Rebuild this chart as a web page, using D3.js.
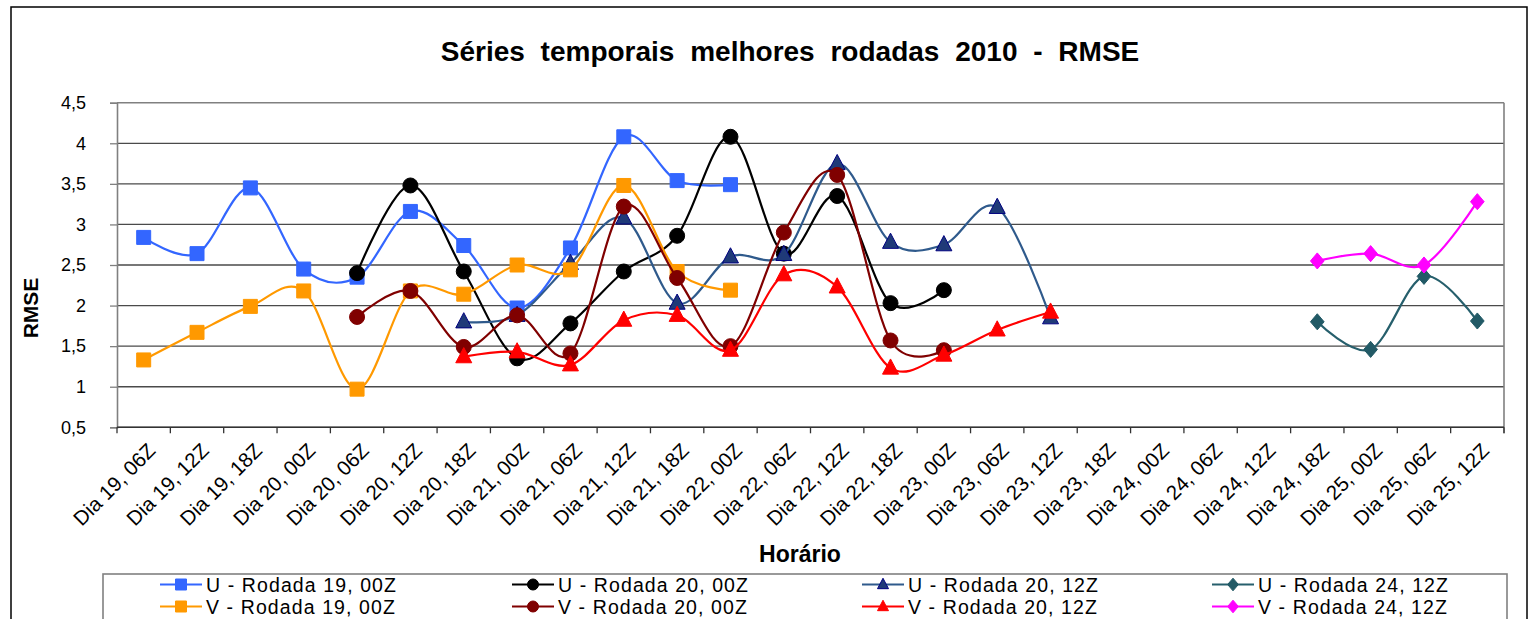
<!DOCTYPE html>
<html>
<head>
<meta charset="utf-8">
<script src="https://cdn.jsdelivr.net/npm/d3@7"></script>
<style>
  body { margin: 0; background: #fff; }
  svg { display: block; font-family: Arial, "Liberation Sans", sans-serif; }
</style>
</head>
<body>
<svg id="chart" width="1534" height="619"></svg>
<script>
// categories (x axis)
let categories = ["Dia 19, 06Z", "Dia 19, 12Z", "Dia 19, 18Z", "Dia 20, 00Z", "Dia 20, 06Z", "Dia 20, 12Z",
  "Dia 20, 18Z", "Dia 21, 00Z", "Dia 21, 06Z", "Dia 21, 12Z", "Dia 21, 18Z", "Dia 22, 00Z", "Dia 22, 06Z",
  "Dia 22, 12Z", "Dia 22, 18Z", "Dia 23, 00Z", "Dia 23, 06Z", "Dia 23, 12Z", "Dia 23, 18Z", "Dia 24, 00Z",
  "Dia 24, 06Z", "Dia 24, 12Z", "Dia 24, 18Z", "Dia 25, 00Z", "Dia 25, 06Z", "Dia 25, 12Z"]
let yTicks = [0.5, 1, 1.5, 2, 2.5, 3, 3.5, 4, 4.5]

let _ = null
// series values, one per category (null = no value)
let u19 = [2.84, 2.64, 3.45, 2.45, 2.35, 3.16, 2.74, 1.97, 2.71, 4.08, 3.54, 3.49, _, _, _, _, _, _, _, _, _, _, _, _, _, _]
let v19 = [1.33, 1.67, 1.99, 2.18, 0.97, 2.18, 2.14, 2.50, 2.44, 3.48, 2.42, 2.19, _, _, _, _, _, _, _, _, _, _, _, _, _, _]
let u20_00 = [_, _, _, _, 2.40, 3.48, 2.42, 1.35, 1.78, 2.42, 2.86, 4.08, 2.64, 3.35, 2.03, 2.19, _, _, _, _, _, _, _, _, _, _]
let v20_00 = [_, _, _, _, 1.86, 2.18, 1.49, 1.88, 1.41, 3.22, 2.34, 1.50, 2.90, 3.61, 1.57, 1.45, _, _, _, _, _, _, _, _, _, _]
let u20_12 = [_, _, _, _, _, _, 1.80, 1.88, 2.52, 3.08, 2.03, 2.60, 2.63, 3.75, 2.78, 2.75, 3.21, 1.85, _, _, _, _, _, _, _, _]
let v20_12 = [_, _, _, _, _, _, 1.37, 1.43, 1.27, 1.82, 1.88, 1.45, 2.38, 2.23, 1.23, 1.39, 1.70, 1.92, _, _, _, _, _, _, _, _]
let u24 = [_, _, _, _, _, _, _, _, _, _, _, _, _, _, _, _, _, _, _, _, _, _, 1.80, 1.46, 2.36, 1.81]
let v24 = [_, _, _, _, _, _, _, _, _, _, _, _, _, _, _, _, _, _, _, _, _, _, 2.55, 2.64, 2.50, 3.28]

// drawing order follows the legend (row by row)
let series = [
  {name: "U - Rodada 19, 00Z", values: u19, line: "#3366FF", fill: "#3366FF", stroke: "#3366FF", shape: "square"},
  {name: "U - Rodada 20, 00Z", values: u20_00, line: "#000000", fill: "#000000", stroke: "#000000", shape: "circle"},
  {name: "U - Rodada 20, 12Z", values: u20_12, line: "#2F5A8C", fill: "#1F3A78", stroke: "#000080", shape: "triangle"},
  {name: "U - Rodada 24, 12Z", values: u24, line: "#265F6C", fill: "#225A66", stroke: "#225A66", shape: "diamond"},
  {name: "V - Rodada 19, 00Z", values: v19, line: "#FF9900", fill: "#FF9900", stroke: "#FF9900", shape: "square"},
  {name: "V - Rodada 20, 00Z", values: v20_00, line: "#800000", fill: "#800000", stroke: "#800000", shape: "circle"},
  {name: "V - Rodada 20, 12Z", values: v20_12, line: "#FF0000", fill: "#FF0000", stroke: "#FF0000", shape: "triangle"},
  {name: "V - Rodada 24, 12Z", values: v24, line: "#FF00FF", fill: "#FF00FF", stroke: "#FF00FF", shape: "diamond"}
]

let svg = d3.select("#chart")
let plot = {left: 117, right: 1504, top: 102.7, bottom: 427.3}

// outer chart border
svg.append("rect").attr("x", 11).attr("y", 7).attr("width", 1516).attr("height", 640)
  .attr("fill", "#fff").attr("stroke", "#000").attr("stroke-width", 1.5)

let xScale = d3.scaleBand().domain(categories).range([plot.left, plot.right])
let yScale = d3.scaleLinear().domain([0.5, 4.5]).range([plot.bottom, plot.top])

// gridlines
svg.append("g").selectAll("line").data(yTicks).join("line")
  .attr("x1", plot.left).attr("x2", plot.right)
  .attr("y1", d => yScale(d)).attr("y2", d => yScale(d))
  .attr("stroke", d => d == 4.5 ? "#808080" : "#4a4a4a").attr("stroke-width", d => d == 4.5 ? 1.6 : 1.3)

// right border of plot area
svg.append("line").attr("x1", plot.right).attr("x2", plot.right)
  .attr("y1", plot.top).attr("y2", plot.bottom + 6).attr("stroke", "#808080").attr("stroke-width", 1.6)

// y axis
let yAxis = d3.axisLeft(yScale).tickValues(yTicks).tickSize(7).tickPadding(24)
  .tickFormat(d => String(d).replace(".", ","))
let gy = svg.append("g").attr("transform", "translate(" + plot.left + ",0)").call(yAxis)
gy.select(".domain").attr("stroke", "#808080").attr("stroke-width", 1.6)
gy.selectAll(".tick line").attr("stroke", "#808080").attr("stroke-width", 1.3)
gy.selectAll(".tick text").attr("font-size", "18px").attr("fill", "#000")
  .attr("font-family", "Arial, 'Liberation Sans', sans-serif")

// x axis: ticks on category boundaries
let bounds = d3.range(categories.length + 1).map(i => plot.left + i * xScale.step())
svg.append("line").attr("x1", plot.left).attr("x2", plot.right)
  .attr("y1", plot.bottom).attr("y2", plot.bottom).attr("stroke", "#333").attr("stroke-width", 1.4)
svg.append("g").selectAll("line").data(bounds).join("line")
  .attr("x1", d => d).attr("x2", d => d)
  .attr("y1", plot.bottom).attr("y2", plot.bottom + 6)
  .attr("stroke", "#333").attr("stroke-width", 1.3)
svg.append("g").selectAll("text").data(categories).join("text")
  .attr("transform", d => "translate(" + (xScale(d) + xScale.bandwidth() / 2 + 13) + "," + 452 + ") rotate(-45)")
  .attr("text-anchor", "end")
  .attr("font-size", "20.5px")
  .text(d => d)

// titles
svg.append("text").attr("x", 790).attr("y", 61).attr("text-anchor", "middle")
  .attr("font-size", "28px").attr("font-weight", "bold").attr("word-spacing", "8px")
  .text("Séries temporais melhores rodadas 2010 - RMSE")
svg.append("text").attr("transform", "translate(38,308) rotate(-90)").attr("text-anchor", "middle")
  .attr("font-size", "21px").attr("font-weight", "bold").text("RMSE")
svg.append("text").attr("x", 800).attr("y", 562).attr("text-anchor", "middle")
  .attr("font-size", "23px").attr("font-weight", "bold").text("Horário")

function markerPath(shape, s) {
  if (shape == "square") return d3.symbol(d3.symbolSquare, s * s)()
  if (shape == "circle") return d3.symbol(d3.symbolCircle, Math.PI * s * s / 4)()
  if (shape == "triangle") {
    let h = s * 0.95
    return "M0," + (-h * 0.6) + "L" + (s / 2) + "," + (h * 0.4) + "L" + (-s / 2) + "," + (h * 0.4) + "Z"
  }
  let r = s / 2 * 1.15
  return "M0," + (-r) + "L" + (r * 0.85) + ",0L0," + r + "L" + (-r * 0.85) + ",0Z"
}

let line = d3.line()
  .defined(d => d.v != null)
  .x(d => xScale(d.c) + xScale.bandwidth() / 2)
  .y(d => yScale(d.v))
  .curve(d3.curveCatmullRom.alpha(0))

let sizes = {square: 14, circle: 15, triangle: 16, diamond: 14}

series.forEach(s => {
  let pts = categories.map((c, i) => ({c: c, v: s.values[i]}))
  let g = svg.append("g")
  g.append("path").datum(pts.filter(d => d.v != null))
    .attr("d", line).attr("fill", "none").attr("stroke", s.line).attr("stroke-width", 2.2)
  g.selectAll("path.mk").data(pts.filter(d => d.v != null)).join("path").attr("class", "mk")
    .attr("transform", d => "translate(" + (xScale(d.c) + xScale.bandwidth() / 2) + "," + yScale(d.v) + ")")
    .attr("d", markerPath(s.shape, sizes[s.shape]))
    .attr("fill", s.fill).attr("stroke", s.stroke).attr("stroke-width", 1)
})

// legend
svg.append("rect").attr("x", 103).attr("y", 574).attr("width", 1404).attr("height", 80)
  .attr("fill", "#fff").attr("stroke", "#808080").attr("stroke-width", 1.6)
let legendX = [160, 512, 862, 1212]
let legendY = [584.5, 606.5]
series.forEach((s, i) => {
  let lx = legendX[i % 4], ly = legendY[Math.floor(i / 4)]
  let g = svg.append("g")
  g.append("line").attr("x1", lx).attr("x2", lx + 42).attr("y1", ly).attr("y2", ly)
    .attr("stroke", s.line).attr("stroke-width", 2.2)
  g.append("path").attr("transform", "translate(" + (lx + 21) + "," + ly + ")")
    .attr("d", markerPath(s.shape, 11)).attr("fill", s.fill).attr("stroke", s.stroke).attr("stroke-width", 1)
  g.append("text").attr("x", lx + 46).attr("y", ly + 7).attr("font-size", "19.5px")
    .attr("letter-spacing", "1.1px").text(s.name)
})
</script>
</body>
</html>
